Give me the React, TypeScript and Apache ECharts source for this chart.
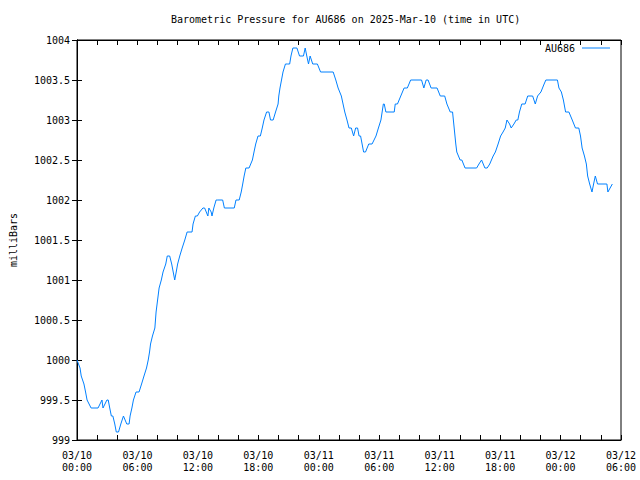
import React, { useEffect, useRef } from "react";
import * as echarts from "echarts";

const TITLE = "Barometric Pressure for AU686 on 2025-Mar-10 (time in UTC)";
const SERIES_NAME = "AU686";
const Y_NAME = "milliBars";
// x tick labels every 6 hours from 03/10 00:00
const X_TICK_LABELS = [
  "03/10\n00:00", "03/10\n06:00", "03/10\n12:00", "03/10\n18:00",
  "03/11\n00:00", "03/11\n06:00", "03/11\n12:00", "03/11\n18:00",
  "03/12\n00:00", "03/12\n06:00",
];

// hours since 2025-03-10 00:00 UTC
const HOURS = [
  0, 0.3, 0.42, 0.69, 0.85, 1.0, 1.4, 2.09, 2.48, 2.58, 2.97, 3.1, 3.25, 3.41, 3.56, 3.75, 3.9, 4.12, 4.35, 4.61,
  4.94, 5.17, 5.27, 5.45, 5.6, 5.86, 6.16, 6.41, 6.65, 6.9, 7.07, 7.2, 7.3, 7.49, 7.73, 7.85, 7.95, 8.05, 8.15, 8.37,
  8.54, 8.81, 8.96, 9.2, 9.4, 9.55, 9.7, 9.85, 9.99, 10.2, 10.44, 10.7, 10.93, 11.42, 11.52, 11.75, 11.95, 12.17, 12.5, 12.67,
  12.99, 13.09, 13.32, 13.4, 13.58, 13.81, 13.97, 14.46, 14.63, 15.61, 15.78, 16.1, 16.3, 16.45, 16.59, 16.76, 17.08, 17.41, 17.57, 17.74,
  17.97, 18.2, 18.39, 18.56, 18.82, 19.05, 19.21, 19.47, 19.71, 19.96, 20.03, 20.15, 20.3, 20.45, 20.69, 20.91, 21.11, 21.24, 21.43, 21.83,
  22.09, 22.48, 22.65, 22.81, 22.98, 23.14, 23.4, 23.63, 23.86, 24.18, 25.43, 25.69, 25.92, 26.24, 26.58, 26.8, 27.0, 27.23, 27.46, 27.66,
  27.85, 28.0, 28.15, 28.3, 28.45, 28.64, 28.96, 29.29, 29.68, 29.92, 30.17, 30.41, 30.5, 30.66, 31.49, 31.59, 31.81, 32.14, 32.47, 32.79,
  33.12, 34.2, 34.43, 34.66, 34.85, 35.15, 35.74, 36.06, 36.5, 36.72, 37.05, 37.28, 37.44, 37.6, 37.7, 38.03, 38.2, 38.52, 39.67, 39.9,
  40.16, 40.49, 40.72, 40.97, 41.31, 41.53, 41.8, 42.05, 42.29, 42.51, 42.68, 42.94, 43.1, 43.37, 43.6, 43.76, 43.92, 44.15, 44.48, 44.74,
  45.23, 45.49, 45.72, 46.05, 46.37, 46.54, 47.69, 47.84, 48.08, 48.28, 48.5, 48.83, 49.16, 49.48, 49.81, 49.98, 50.14, 50.37, 50.56, 50.69,
  50.89, 51.12, 51.28, 51.45, 51.67, 52.6, 52.7, 52.92, 53.14,
];

const PRESSURE = [
  1000.0, 999.9, 999.8, 999.7, 999.6, 999.5, 999.4, 999.4, 999.5, 999.4, 999.5, 999.5, 999.4, 999.3, 999.3, 999.2, 999.1, 999.1, 999.2, 999.3,
  999.2, 999.2, 999.3, 999.4, 999.5, 999.6, 999.6, 999.7, 999.8, 999.9, 1000.0, 1000.1, 1000.2, 1000.3, 1000.4, 1000.6, 1000.7, 1000.8, 1000.9, 1001.0,
  1001.1, 1001.2, 1001.3, 1001.3, 1001.2, 1001.1, 1001.0, 1001.1, 1001.2, 1001.3, 1001.4, 1001.5, 1001.6, 1001.6, 1001.7, 1001.8, 1001.8, 1001.85, 1001.9, 1001.9,
  1001.8, 1001.9, 1001.85, 1001.8, 1001.9, 1002.0, 1002.0, 1002.0, 1001.9, 1001.9, 1002.0, 1002.0, 1002.1, 1002.2, 1002.3, 1002.4, 1002.4, 1002.5, 1002.6, 1002.7,
  1002.8, 1002.8, 1002.9, 1003.0, 1003.1, 1003.1, 1003.0, 1003.0, 1003.1, 1003.2, 1003.3, 1003.4, 1003.5, 1003.6, 1003.7, 1003.7, 1003.7, 1003.8, 1003.9, 1003.9,
  1003.8, 1003.8, 1003.9, 1003.8, 1003.7, 1003.8, 1003.7, 1003.7, 1003.7, 1003.6, 1003.6, 1003.5, 1003.4, 1003.3, 1003.1, 1003.0, 1002.9, 1002.9, 1002.8, 1002.9,
  1002.9, 1002.8, 1002.8, 1002.7, 1002.6, 1002.6, 1002.7, 1002.7, 1002.8, 1002.9, 1003.0, 1003.2, 1003.2, 1003.1, 1003.1, 1003.2, 1003.2, 1003.3, 1003.4, 1003.4,
  1003.5, 1003.5, 1003.4, 1003.5, 1003.5, 1003.4, 1003.4, 1003.3, 1003.3, 1003.2, 1003.1, 1003.1, 1002.9, 1002.7, 1002.6, 1002.5, 1002.5, 1002.4, 1002.4, 1002.45,
  1002.5, 1002.4, 1002.4, 1002.45, 1002.55, 1002.6, 1002.7, 1002.8, 1002.85, 1002.9, 1003.0, 1002.95, 1002.9, 1002.95, 1003.0, 1003.0, 1003.1, 1003.2, 1003.2, 1003.3,
  1003.3, 1003.2, 1003.3, 1003.35, 1003.45, 1003.5, 1003.5, 1003.4, 1003.35, 1003.25, 1003.1, 1003.1, 1003.0, 1002.9, 1002.9, 1002.8, 1002.65, 1002.55, 1002.45, 1002.3,
  1002.2, 1002.1, 1002.2, 1002.3, 1002.2, 1002.2, 1002.1, 1002.15, 1002.2,
];

const FONT = "'DejaVu Sans Mono', 'Liberation Mono', monospace";

export default function App() {
  const ref = useRef<HTMLDivElement>(null);
  useEffect(() => {
    document.body.style.margin = "0";
    const chart = echarts.init(ref.current!, null, { renderer: "svg" });
    const data = HOURS.map((h, i) => [h, PRESSURE[i]]);
    const tickCommon = {
      axisLine: { show: true, lineStyle: { color: "#000", width: 1 } },
      axisTick: { show: true, inside: true, length: 5, lineStyle: { color: "#000" } },
      splitLine: { show: false },
    };
    chart.setOption({
      animation: false,
      backgroundColor: "#fff",
      textStyle: { fontFamily: FONT },
      title: {
        text: TITLE,
        left: 171,
        top: 14,
        padding: 0,
        textStyle: { fontFamily: FONT, fontSize: 10, fontWeight: "normal", color: "#000" },
      },
      legend: {
        data: [SERIES_NAME],
        right: 30,
        top: 43,
        padding: 0,
        align: "right",
        icon: "path://M0,0 L28,0 L28,1 L0,1 Z",
        itemWidth: 28,
        itemHeight: 1,
        itemGap: 6,
        textStyle: { fontFamily: FONT, fontSize: 10, color: "#000", padding: [0, 2, 0, 0] },
      },
      grid: { left: 70, right: 19, top: 40, bottom: 40, show: true, borderColor: "#000", borderWidth: 1 },
      xAxis: [
        {
          type: "value",
          min: 0,
          max: 54,
          interval: 6,
          ...tickCommon,
          minorTick: { show: true, splitNumber: 3, length: 5, lineStyle: { color: "#000" } },
          axisLabel: {
            fontFamily: FONT,
            fontSize: 10,
            color: "#000",
            margin: 9,
            lineHeight: 12,
            formatter: (v: number) => X_TICK_LABELS[Math.round(v / 6)] ?? "",
          },
        },
        {
          type: "value",
          position: "top",
          min: 0,
          max: 54,
          interval: 6,
          ...tickCommon,
          minorTick: { show: true, splitNumber: 3, length: 5, lineStyle: { color: "#000" } },
          axisLabel: { show: false },
        },
      ],
      yAxis: [
        {
          type: "value",
          min: 999,
          max: 1004,
          interval: 0.5,
          ...tickCommon,
          name: Y_NAME,
          nameLocation: "middle",
          nameRotate: 90,
          nameGap: 59,
          nameTextStyle: { fontFamily: FONT, fontSize: 10, color: "#000" },
          axisLabel: {
            fontFamily: FONT,
            fontSize: 10,
            color: "#000",
            margin: 7,
            formatter: (v: number) => String(Math.round(v * 10) / 10),
          },
        },
        {
          type: "value",
          position: "right",
          min: 999,
          max: 1004,
          interval: 0.5,
          ...tickCommon,
          axisLabel: { show: false },
        },
      ],
      series: [
        {
          name: SERIES_NAME,
          type: "line",
          data,
          showSymbol: false,
          symbol: "none",
          lineStyle: { color: "#0080ff", width: 1 },
          itemStyle: { color: "#0080ff" },
        },
      ],
    });
    return () => chart.dispose();
  }, []);
  return <div ref={ref} style={{ width: 640, height: 480 }} />;
}
